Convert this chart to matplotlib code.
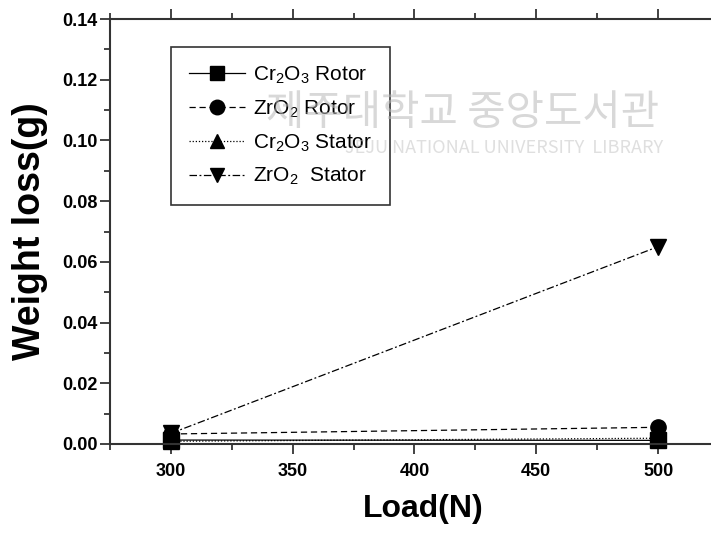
import matplotlib
matplotlib.use("Agg")
import matplotlib.pyplot as plt
from matplotlib.ticker import MultipleLocator

plt.rcParams['font.family'] = ['Liberation Sans', 'DejaVu Sans']
plt.rcParams['mathtext.fontset'] = 'custom'
plt.rcParams['mathtext.rm'] = 'Liberation Sans'
plt.rcParams['mathtext.it'] = 'Liberation Sans'
plt.rcParams['mathtext.bf'] = 'Liberation Sans:bold'

# Wear test results
load = [300, 500]
cr2o3_rotor = [0.0013, 0.0012]
zro2_rotor = [0.0033, 0.0055]
cr2o3_stator = [0.0009, 0.0019]
zro2_stator = [0.0035, 0.065]

series_labels = ["Cr$_2$O$_3$ Rotor", "ZrO$_2$ Rotor",
                 "Cr$_2$O$_3$ Stator", "ZrO$_2$  Stator"]
x_ticks = [300, 350, 400, 450, 500]
y_ticks = [0.00, 0.02, 0.04, 0.06, 0.08, 0.10, 0.12, 0.14]

fig = plt.figure(figsize=(7.11, 5.34), dpi=100)
ax = fig.add_axes([110 / 711, 1 - 444 / 534, 609 / 711, 425 / 534])

styles = [
    dict(ls='-', marker='s'),
    dict(ls=(0, (5, 3)), marker='o'),
    dict(ls=(0, (1, 1.5)), marker='^'),
    dict(ls=(0, (6, 2, 1.5, 2)), marker='v'),
]
for y, lab, st in zip([cr2o3_rotor, zro2_rotor, cr2o3_stator, zro2_stator],
                      series_labels, styles):
    ax.plot(load, y, color='black', lw=0.9, linestyle=st['ls'],
            marker=st['marker'], markersize=11, markerfacecolor='black',
            markeredgecolor='black', label=lab, clip_on=False)

ax.set_xlim(275, 525)
ax.set_ylim(0, 0.14)
ax.set_xticks(x_ticks)
ax.set_yticks(y_ticks)
ax.set_yticklabels([f"{v:.2f}" for v in y_ticks])
ax.xaxis.set_minor_locator(MultipleLocator(25))
ax.yaxis.set_minor_locator(MultipleLocator(0.01))

ax.tick_params(which='both', direction='out', top=True, right=False,
               width=1.2, colors='#222222', labelcolor='black')
ax.tick_params(which='major', length=7)
ax.tick_params(which='minor', length=4)
for lbl in ax.get_xticklabels() + ax.get_yticklabels():
    lbl.set_fontweight('bold')
    lbl.set_fontsize(13)
ax.tick_params(axis='x', pad=7)
ax.tick_params(axis='y', pad=2)

for sp in ax.spines.values():
    sp.set_linewidth(1.5)
    sp.set_color('#333333')

ax.set_xlabel("Load(N)", fontsize=23, fontweight='bold')
ax.xaxis.set_label_coords(0.515, -0.118)
ax.xaxis.label.set_va('top')
ax.set_ylabel("Weight loss(g)", fontsize=27, fontweight='bold', labelpad=10)

leg = ax.legend(loc='upper left', bbox_to_anchor=(61 / 609, 1 - 28 / 425),
                fontsize=15, frameon=True, fancybox=False, handlelength=2.7,
                handletextpad=0.4, borderpad=0.85, labelspacing=0.6,
                borderaxespad=0, markerscale=0.95, framealpha=1)
leg.get_frame().set_edgecolor('#333333')
leg.get_frame().set_linewidth(1.2)

# Library watermark overlay
fig.text(0.927, 0.787, "제주대학교 중앙도서관", fontsize=30,
         family=['Noto Sans CJK KR'], color='#b8b8b8', alpha=0.55,
         ha='right', va='center', zorder=10)
fig.text(0.933, 0.723, "JEJU NATIONAL UNIVERSITY  LIBRARY", fontsize=13,
         family=['Noto Sans CJK KR'], color='#b8b8b8', alpha=0.45,
         ha='right', va='center', zorder=10)

fig.savefig("out.png", dpi=100)
